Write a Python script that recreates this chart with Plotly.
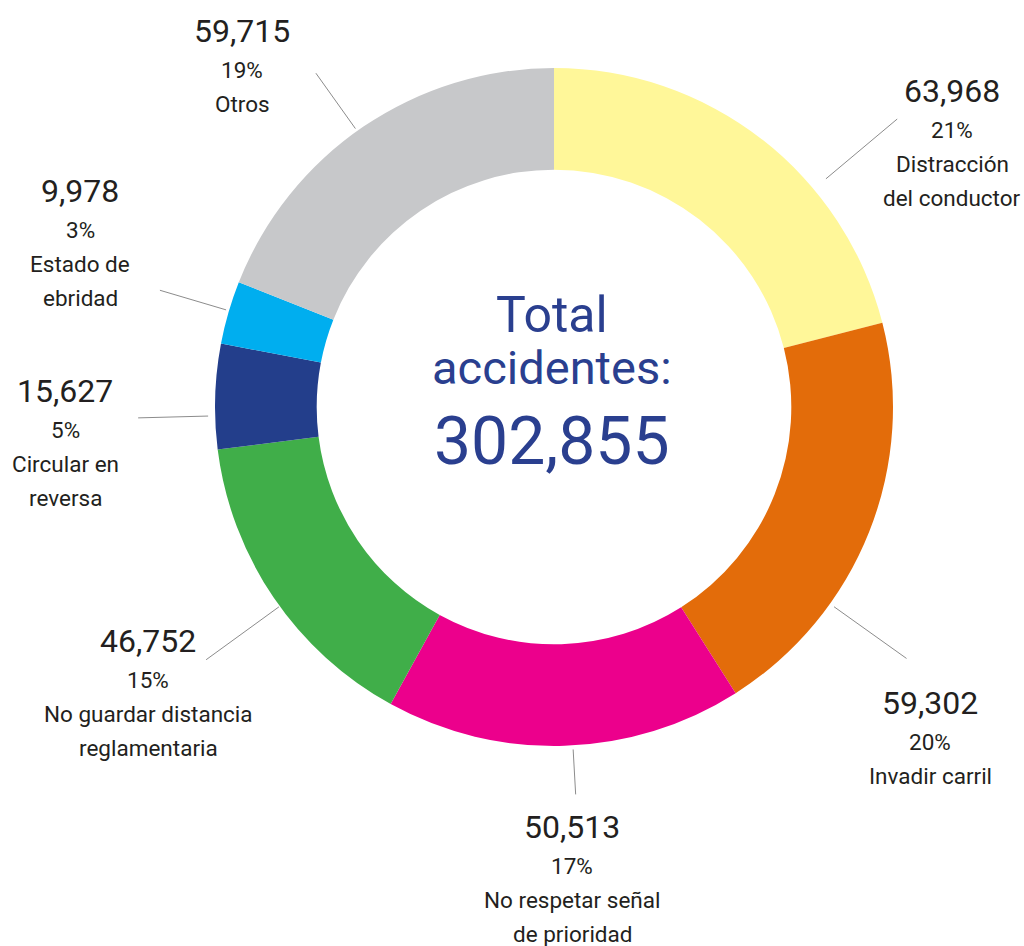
import math
import plotly.graph_objects as go

# ---- data ----
categories = ["Distracción del conductor", "Invadir carril", "No respetar señal de prioridad",
              "No guardar distancia reglamentaria", "Circular en reversa", "Estado de ebridad", "Otros"]
label_lines = [["Distracción", "del conductor"], ["Invadir carril"], ["No respetar señal", "de prioridad"],
               ["No guardar distancia", "reglamentaria"], ["Circular en", "reversa"], ["Estado de", "ebridad"], ["Otros"]]
values = [63968, 59302, 50513, 46752, 15627, 9978, 59715]      # accident counts (as labelled)
percents = [21, 20, 17, 15, 5, 3, 19]                           # shares (%) - slices drawn from these
total_label = "302,855"
colors = ["#FFF799", "#E36C0A", "#EC008C", "#40AE49", "#233E8B", "#00AEEF", "#C7C8CA"]

# ---- layout (pixels in the 1024x946 window) ----
W, H = 1024, 946
CX, CY, R_OUT = 554, 407, 339
HOLE = 0.70
# label anchor: x center, y center of number line
label_pos = [(952, 91), (930, 703), (572, 827), (148, 641), (65, 391), (80, 191), (242, 31)]
# leader: angle (deg clockwise from top), inner r, outer r
leaders = [(50, 355, 448), (125.5, 344, 433), (176.8, 343, 388), (234, 340, 430),
           (268.5, 346, 416), (286.5, 342, 411), (324.5, 342, 410)]

FONT = "Roboto, Liberation Sans, sans-serif"
TXT = "#231F20"
BLUE = "#2A3F8F"

def px(x):
    return x / W

def py(y):
    return 1 - y / H

fig = go.Figure(go.Pie(
    values=percents, labels=categories, customdata=values, sort=False,
    direction="clockwise", rotation=0,
    hole=HOLE, marker=dict(colors=colors, line=dict(width=0)),
    textinfo="none", hovertemplate="%{label}: %{customdata:,}<extra></extra>", showlegend=False,
    domain=dict(x=[px(CX - R_OUT), px(CX + R_OUT)], y=[py(CY + R_OUT), py(CY - R_OUT)]),
))

annotations = []
shapes = []
for i, v in enumerate(values):
    lx, ly = label_pos[i]
    annotations.append(dict(x=px(lx), y=py(ly), xref="paper", yref="paper", text=f"{v:,}",
                            showarrow=False, xanchor="center", yanchor="middle",
                            font=dict(family=FONT, size=32, color=TXT)))
    lines = [f"{percents[i]}%"] + label_lines[i]
    for j, t in enumerate(lines):
        yy = ly + 39 + 34 * j
        annotations.append(dict(x=px(lx), y=py(yy), xref="paper", yref="paper", text=t,
                                showarrow=False, xanchor="center", yanchor="middle",
                                font=dict(family=FONT, size=22.5, color=TXT)))
    ang, r1, r2 = leaders[i]
    a = math.radians(ang)
    shapes.append(dict(type="line", xref="paper", yref="paper",
                       x0=px(CX + r1 * math.sin(a)), y0=py(CY - r1 * math.cos(a)),
                       x1=px(CX + r2 * math.sin(a)), y1=py(CY - r2 * math.cos(a)),
                       line=dict(color="#8C8C8C", width=1)))

annotations.append(dict(x=px(552), y=py(315), xref="paper", yref="paper", text="Total",
                        showarrow=False, xanchor="center", yanchor="middle",
                        font=dict(family=FONT, size=50, color=BLUE)))
annotations.append(dict(x=px(552), y=py(367), xref="paper", yref="paper", text="accidentes:",
                        showarrow=False, xanchor="center", yanchor="middle",
                        font=dict(family=FONT, size=47, color=BLUE)))
annotations.append(dict(x=px(552), y=py(441), xref="paper", yref="paper", text=total_label,
                        showarrow=False, xanchor="center", yanchor="middle",
                        font=dict(family=FONT, size=66, color=BLUE)))

fig.update_layout(width=W, height=H, margin=dict(l=0, r=0, t=0, b=0),
                  paper_bgcolor="white", plot_bgcolor="white",
                  annotations=annotations, shapes=shapes)
fig.write_html("out.html", config={"displayModeBar": False},
               post_script="document.body.style.margin='0';document.body.style.overflow='hidden';")
